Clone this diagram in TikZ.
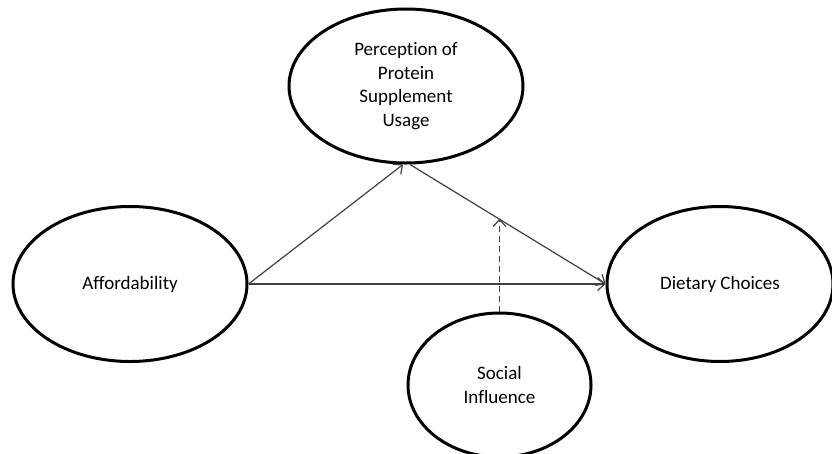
\documentclass[tikz,border=0pt]{standalone}
\usepackage{fontspec}
\setmainfont[Ligatures=NoCommon]{Carlito}
\usetikzlibrary{arrows.meta,shapes.geometric,calc}
\begin{document}
\begin{tikzpicture}[x=1pt,y=-1pt,
  oval/.style={ellipse,draw,line width=3pt,inner sep=0pt,align=center,
    font=\fontsize{19}{23.5}\selectfont},
  conn/.style={draw=black!75,line width=1.2pt,-{Straight Barb[length=7pt,width=13pt]}}]
\useasboundingbox (0,0) rectangle (832,453);
\node[oval,minimum width=234pt,minimum height=154pt] (perc) at (406,86)
  {Perception of\\Protein\\Supplement\\Usage};
\node[oval,minimum width=234pt,minimum height=155pt] (aff) at (130,284) {Affordability};
\node[oval,minimum width=226pt,minimum height=155pt] (diet) at (720,284) {Dietary Choices};
\node[oval,minimum width=183pt,minimum height=144pt] (soc) at (499.5,385) {Social\\Influence};
\draw[conn] (aff.east) -- ([xshift=-3pt]perc.south);
\draw[conn] (aff.east) -- (diet.west);
\draw[conn] ([xshift=4pt]perc.south) -- (diet.west);
\path ([xshift=4pt]perc.south) -- (diet.west) coordinate[pos=0.454] (m);
\draw[conn,dash pattern=on 6pt off 4pt] (soc.north) -- (soc.north |- m);
\end{tikzpicture}
\end{document}
